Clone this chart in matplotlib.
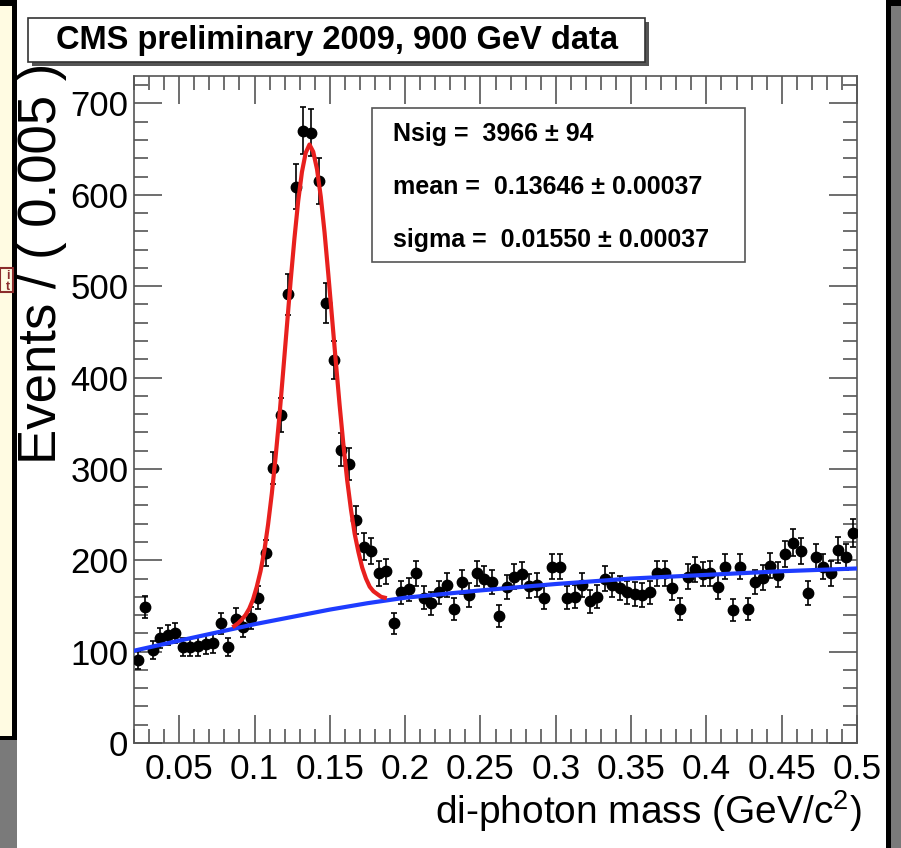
import numpy as np
import matplotlib.pyplot as plt
from matplotlib.patches import Rectangle
from matplotlib.ticker import FixedLocator, MultipleLocator

plt.rcParams['font.family'] = ['Liberation Sans', 'DejaVu Sans']
plt.rcParams['mathtext.default'] = 'regular'

# histogram, bin width 0.005 from 0.02 to 0.5
bin_lo = 0.02
bin_width = 0.005
counts = [91, 149, 102, 115, 118, 120, 105, 105, 106, 108, 109, 131, 105, 136, 127, 137, 159, 208,
          301, 359, 491, 609, 670, 668, 615, 482, 419, 321, 305,
          244, 215, 210, 186, 188, 131, 165, 168, 186, 159, 153, 165, 173,
          147, 176, 162, 186, 180, 176, 139, 171, 182, 185, 172, 173, 159, 193, 193, 159, 160, 173,
          155, 160, 180, 173, 170, 165,
          163, 162, 165,
          186, 186, 170, 147, 182, 190, 185, 186, 171, 193, 146, 193, 147, 176, 181, 194, 184, 207,
          219, 210, 164, 204, 193, 186, 211, 204, 230]

# background fit (blue)
bkg_x = [0.02, 0.05, 0.075, 0.1, 0.125, 0.15, 0.175, 0.2, 0.25, 0.3, 0.35, 0.4, 0.45, 0.5]
bkg_y = [101, 112, 121, 130, 138, 146, 153, 159, 167, 174, 180, 184, 188, 191]

# signal + background fit (red)
sig_x = [0.0865, 0.089, 0.0915, 0.094, 0.0965, 0.099, 0.1015, 0.104, 0.1065, 0.109,
         0.1115, 0.114, 0.1165, 0.119, 0.1215, 0.124, 0.1265, 0.129, 0.1315, 0.134,
         0.1365, 0.139, 0.1415, 0.144, 0.1465, 0.149, 0.1515, 0.154, 0.1565, 0.159,
         0.1615, 0.164, 0.1665, 0.169, 0.1715, 0.174, 0.1765, 0.179, 0.1815, 0.184, 0.1865]
sig_y = [128, 131, 135, 140, 147, 157, 171, 188, 210, 239,
         273, 313, 357, 406, 456, 506, 552, 593, 625, 646,
         655, 647, 628, 598, 559, 513, 465, 417, 370, 327,
         288, 256, 229, 209, 192, 180, 171, 166, 163, 160, 159]

xtick_vals = [0.05, 0.1, 0.15, 0.2, 0.25, 0.3, 0.35, 0.4, 0.45, 0.5]
xtick_text = ['0.05', '0.1', '0.15', '0.2', '0.25', '0.3', '0.35', '0.4', '0.45', '0.5']
ytick_vals = [0, 100, 200, 300, 400, 500, 600, 700]

title = 'CMS preliminary 2009, 900 GeV data'
stats = ['Nsig =  3966 \u00b1 94', 'mean =  0.13646 \u00b1 0.00037', 'sigma =  0.01550 \u00b1 0.00037']

counts = np.array(counts)
centers = bin_lo + bin_width * (np.arange(len(counts)) + 0.5)

W, H = 901, 848
fig = plt.figure(figsize=(W / 100, H / 100), dpi=100)
fig.patch.set_facecolor('#7a7a7a')


def box(x0, y0, x1, y1, z=-5, **kw):
    # pixel box, origin top left
    r = Rectangle((x0 / W, 1 - y1 / H), (x1 - x0) / W, (y1 - y0) / H,
                  transform=fig.transFigure, zorder=z, **kw)
    fig.add_artist(r)


# frame of the slide photo (behind the axes)
box(0, 0, 901, 6, color='black', lw=0)
box(17, 0, 889, 848, color='white', lw=0)
box(886, 0, 891, 848, color='black', lw=0)
box(0, 6, 13, 737, color='#fffbe2', lw=0)
box(12, 0, 17, 740, color='black', lw=0)
box(0, 736, 17, 740, color='black', lw=0)
box(0, 268, 13, 292, fill=False, ec='#8b2c2c', lw=1.5)
fig.text(8 / W, 1 - 276 / H, 'i', color='#8b2c2c', fontsize=9, fontweight='bold', ha='center', va='center')
fig.text(8 / W, 1 - 287 / H, 't', color='#8b2c2c', fontsize=9, fontweight='bold', ha='center', va='center')

ax = fig.add_axes([134 / W, 1 - 743 / H, (857 - 134) / W, (743 - 76) / H])
ax.set_facecolor('white')

ax.errorbar(centers, counts, yerr=np.sqrt(counts), fmt='o', color='black', ms=7.5,
            elinewidth=1.2, capsize=2.5, capthick=1.2, zorder=3)
ax.plot(bkg_x, bkg_y, color='#1e3cff', lw=3, zorder=4)
ax.plot(sig_x, sig_y, color='#e8201e', lw=3, zorder=5)

ax.set_xlim(0.02, 0.5)
ax.set_ylim(0, 730)

ax.xaxis.set_major_locator(FixedLocator(xtick_vals))
ax.set_xticklabels(xtick_text)
ax.xaxis.set_minor_locator(MultipleLocator(0.01))
ax.yaxis.set_major_locator(FixedLocator(ytick_vals))
ax.yaxis.set_minor_locator(MultipleLocator(20))
ax.tick_params(which='both', direction='in', top=True, right=True, color='#555555', width=1.2)
ax.tick_params(which='major', length=20)
ax.tick_params(which='minor', length=10)
ax.tick_params(axis='x', pad=7, labelsize=25.5)
ax.tick_params(axis='y', pad=4, labelsize=25)
for s in ax.spines.values():
    s.set_color('#555555')
    s.set_linewidth(1.2)

ax.set_xlabel('di-photon mass (GeV/c$^2$)', fontsize=28, loc='right')
ax.xaxis.set_label_coords(1.007, -0.068)
ax.set_ylabel('Events / ( 0.005 )', fontsize=38, loc='top')
ax.yaxis.set_label_coords(-0.092, 1.02)

# title box with shadow
box(32, 22, 649, 66, z=5, color='#555555', lw=0)
box(28, 18, 645, 62, z=6, fc='white', ec='#333333', lw=1.2)
fig.text(337 / W, 1 - 41 / H, title, fontsize=23.5, fontweight='bold', ha='center', va='center', zorder=7)

# fit result box
box(372, 108, 745, 262, z=6, fc='white', ec='#555555', lw=1.2)
for i, line in enumerate(stats):
    fig.text(393 / W, 1 - (134 + 53 * i) / H, line, fontsize=18, fontweight='bold',
             ha='left', va='center', zorder=7)

fig.savefig('out.png', dpi=100, facecolor=fig.get_facecolor())
